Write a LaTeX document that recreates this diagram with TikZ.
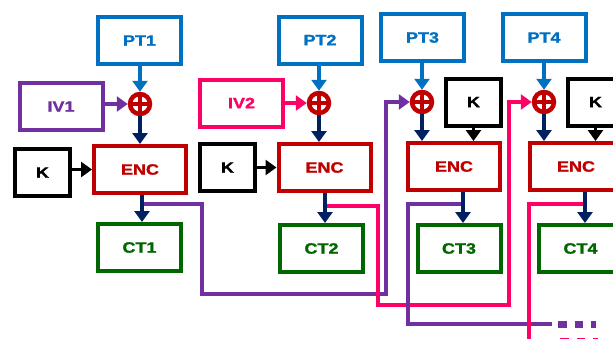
\documentclass[tikz,border=0pt]{standalone}
\usepackage{fontspec}
\setmainfont{Liberation Sans}[FakeStretch=1.2, BoldFeatures={FakeBold=1.3}]
\usetikzlibrary{arrows.meta,calc}
\definecolor{ptblue}{HTML}{0070C0}
\definecolor{navy}{HTML}{002060}
\definecolor{ivpurple}{HTML}{7030A0}
\definecolor{ivpink}{HTML}{FF0066}
\definecolor{encred}{HTML}{C00000}
\definecolor{ctgreen}{HTML}{006600}
\tikzset{
  box/.style={draw, line width=4pt, minimum width=83pt, minimum height=47pt, inner sep=0pt,
    fill=white, font=\fontsize{15}{15}\selectfont\bfseries},
  ptbox/.style={box, draw=ptblue, text=ptblue},
  ctbox/.style={box, draw=ctgreen, text=ctgreen},
  encbox/.style={box, draw=encred, text=encred, minimum width=92pt},
  kbox/.style={box, draw=black, text=black, minimum width=55pt},
  xorc/.style={circle, draw=encred, line width=4.5pt, minimum size=20pt, inner sep=0pt, fill=white,
    path picture={\draw[encred, line width=3.5pt] (path picture bounding box.north) -- (path picture bounding box.south)
      (path picture bounding box.west) -- (path picture bounding box.east);}},
  arr/.style={line width=3.5pt, -{Triangle[length=11pt,width=15pt]}},
  wire/.style={line width=4pt},
  wirearr/.style={line width=4pt, -{Triangle[length=11pt,width=15pt]}},
  dots/.style={line width=7pt, dash pattern=on 8.5pt off 8pt}
}
\begin{document}
\begin{tikzpicture}[x=1pt,y=-1pt]
\useasboundingbox (0,0) rectangle (613,338);
\clip (0,0) rectangle (613,338);
% plaintext blocks
\node[ptbox] (PT1) at (139.5,40.5) {PT1};
\node[ptbox] (PT2) at (320,40) {PT2};
\node[ptbox] (PT3) at (422.5,37.5) {PT3};
\node[ptbox] (PT4) at (544,37.5) {PT4};
% IVs
\node[box, draw=ivpurple, text=ivpurple] (IV1) at (61,106.5) {IV1};
\node[box, draw=ivpink, text=ivpink] (IV2) at (241.5,103) {IV2};
% XORs
\node[xorc] (X1) at (140,104) {};
\node[xorc] (X2) at (319,103) {};
\node[xorc] (X3) at (422,102) {};
\node[xorc] (X4) at (544,102) {};
% keys
\node[kbox] (K1) at (42.5,172.5) {K};
\node[kbox] (K2) at (227.5,167.5) {K};
\node[kbox] (K3) at (473.5,102) {K};
\node[kbox] (K4) at (595.5,102) {K};
% encryption
\node[encbox] (E1) at (140,169.5) {ENC};
\node[encbox] (E2) at (324.5,167.5) {ENC};
\node[encbox] (E3) at (454,166.5) {ENC};
\node[encbox] (E4) at (576,166.5) {ENC};
% ciphertexts
\node[ctbox] (CT1) at (139.5,247.5) {CT1};
\node[ctbox] (CT2) at (321.5,248.5) {CT2};
\node[ctbox] (CT3) at (459,248.5) {CT3};
\node[ctbox] (CT4) at (580.5,248.5) {CT4};
% feedback coordinates
\coordinate (s1) at ($(E1.south)+(2,9)$);
\coordinate (s2) at ($(E2.south)+(0.5,13)$);
\coordinate (s3) at ($([xshift=9pt]E3.south)+(0,12)$);
\coordinate (s4) at ($([xshift=9pt]E4.south)+(0,12)$);
\coordinate (c1) at (202,294);
\coordinate (c2) at ($(X3.west)+(-24,0)$);
\coordinate (c3) at (378,305);
\coordinate (c4) at ($(X4.west)+(-23,0)$);
\coordinate (c5) at (408,324);
\coordinate (c6) at (552,324);
\coordinate (d5) at (558,324);
\coordinate (e5) at (596,324);
\coordinate (c7) at (529,341);
\coordinate (c8) at (552,341);
\coordinate (d7) at (560,341);
\coordinate (e7) at (598,341);
% feedback wires
\draw[wirearr, ivpurple] (s1) -| (c1) -| (c2) -- (X3.west);
\draw[wirearr, ivpink] (s2) -| (c3) -| (c4) -- (X4.west);
\draw[wire, ivpurple] (s3) -| (c5) -- (c6);
\draw[dots, ivpurple] (d5) -- (e5);
\draw[wire, ivpink] (s4) -| (c7) -- (c8);
\draw[dots, ivpink] (d7) -- (e7);
% PT -> XOR
\draw[arr, ptblue] (PT1.south -| X1) -- (X1.north);
\draw[arr, ptblue] (PT2.south -| X2) -- (X2.north);
\draw[arr, ptblue] (PT3.south -| X3) -- (X3.north);
\draw[arr, ptblue] (PT4.south -| X4) -- (X4.north);
% IV -> XOR
\draw[arr, ivpurple] (IV1.east |- X1) -- (X1.west);
\draw[arr, ivpink] (IV2.east |- X2) -- (X2.west);
% XOR -> ENC
\draw[arr, navy] (X1.south) -- (X1 |- E1.north);
\draw[arr, navy] (X2.south) -- (X2 |- E2.north);
\draw[arr, navy] (X3.south) -- (X3 |- E3.north);
\draw[arr, navy] (X4.south) -- (X4 |- E4.north);
% K -> ENC
\draw[arr, black] (K1.east |- E1) -- (E1.west);
\draw[arr, black] (K2.east |- E2) -- (E2.west);
\draw[arr, black] (K3.south) -- (K3.south |- E3.north);
\draw[arr, black] (K4.south) -- (K4.south |- E4.north);
% ENC -> CT
\draw[arr, navy] ([xshift=2pt]E1.south) -- ([xshift=2pt]E1.south |- CT1.north);
\draw[arr, navy] ([xshift=0.5pt]E2.south) -- ([xshift=0.5pt]E2.south |- CT2.north);
\draw[arr, navy] ([xshift=9pt]E3.south) -- ([xshift=9pt]E3.south |- CT3.north);
\draw[arr, navy] ([xshift=9pt]E4.south) -- ([xshift=9pt]E4.south |- CT4.north);
\end{tikzpicture}
\end{document}
